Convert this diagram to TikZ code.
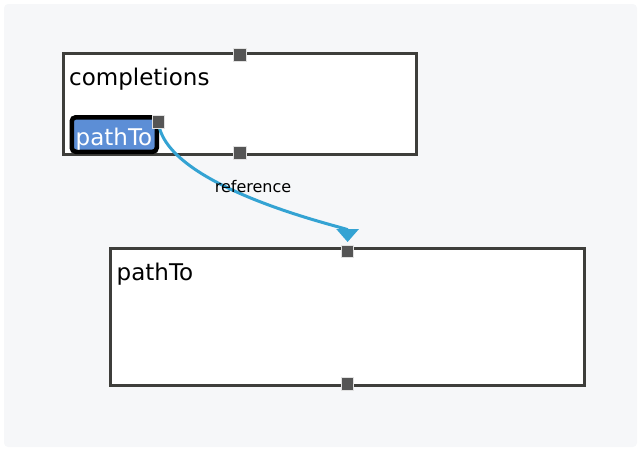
\documentclass[tikz,border=0pt]{standalone}
\usepackage{fontspec}
\setmainfont{DejaVu Sans}
\usetikzlibrary{arrows.meta}
\definecolor{panelbg}{RGB}{246,247,249}
\definecolor{boxline}{RGB}{62,62,59}
\definecolor{handlefill}{RGB}{85,85,85}
\definecolor{handleedge}{RGB}{225,225,225}
\definecolor{selblue}{RGB}{92,142,214}
\definecolor{edgeblue}{RGB}{52,163,211}
\tikzset{
  box/.style={draw=boxline, line width=3pt, fill=white, rectangle, inner sep=0pt, outer sep=0pt},
  handle/.style={draw=handleedge, line width=0.8pt, fill=handlefill, rectangle, inner sep=0pt, outer sep=0pt, minimum size=12.5pt},
  bigtext/.style={font=\fontsize{23}{27}\selectfont, inner sep=0pt, anchor=base west},
  seltext/.style={bigtext, text=white},
  selbox/.style={draw=black, fill=selblue, line width=4.5pt, rounded corners=4pt, rectangle, inner sep=0pt, outer sep=0pt},
  reflabel/.style={font=\fontsize{16}{19}\selectfont, inner sep=0pt, anchor=base},
  refedge/.style={draw=edgeblue, line width=3pt, -{Triangle[width=22pt,length=13pt]}}
}
\begin{document}
\begin{tikzpicture}[x=1pt,y=-1pt]
\useasboundingbox (0,0) rectangle (641,451);
\fill[panelbg, rounded corners=4pt] (4,4) rectangle (637,447);
% box 1
\node[box, minimum width=353pt, minimum height=101.3pt] (box1) at (239.7,103.85) {};
\node[bigtext] (t1) at (69,85) {completions};
\node[selbox, minimum width=85pt, minimum height=34.5pt] (sel) at (114.25,134.5) {};
\node[seltext] (t2) at (75.5,145) {pathTo};
% box 2
\node[box, minimum width=473.7pt, minimum height=137pt] (box2) at (347.35,317.3) {};
\node[bigtext] (t3) at (116.5,280.7) {pathTo};
% handles (nodes first so the connector can refer to them)
\node[handle] (h1t) at (239.7,55) {};
\node[handle] (h1b) at (239.7,153) {};
\node[handle] (hs) at (158.3,121.7) {};
\node[handle] (h2t) at (347.6,251.5) {};
\node[handle] (h2b) at (347.6,384) {};
% connector
\coordinate (tip) at (347.6,242);
\draw[refedge] (hs.center) .. controls (165,188) and (347.6,228) .. (tip);
\node[reflabel] (lbl) at (253,192) {reference};
% redraw source handle on top of the connector
\node[handle] at (hs.center) {};
\end{tikzpicture}
\end{document}
